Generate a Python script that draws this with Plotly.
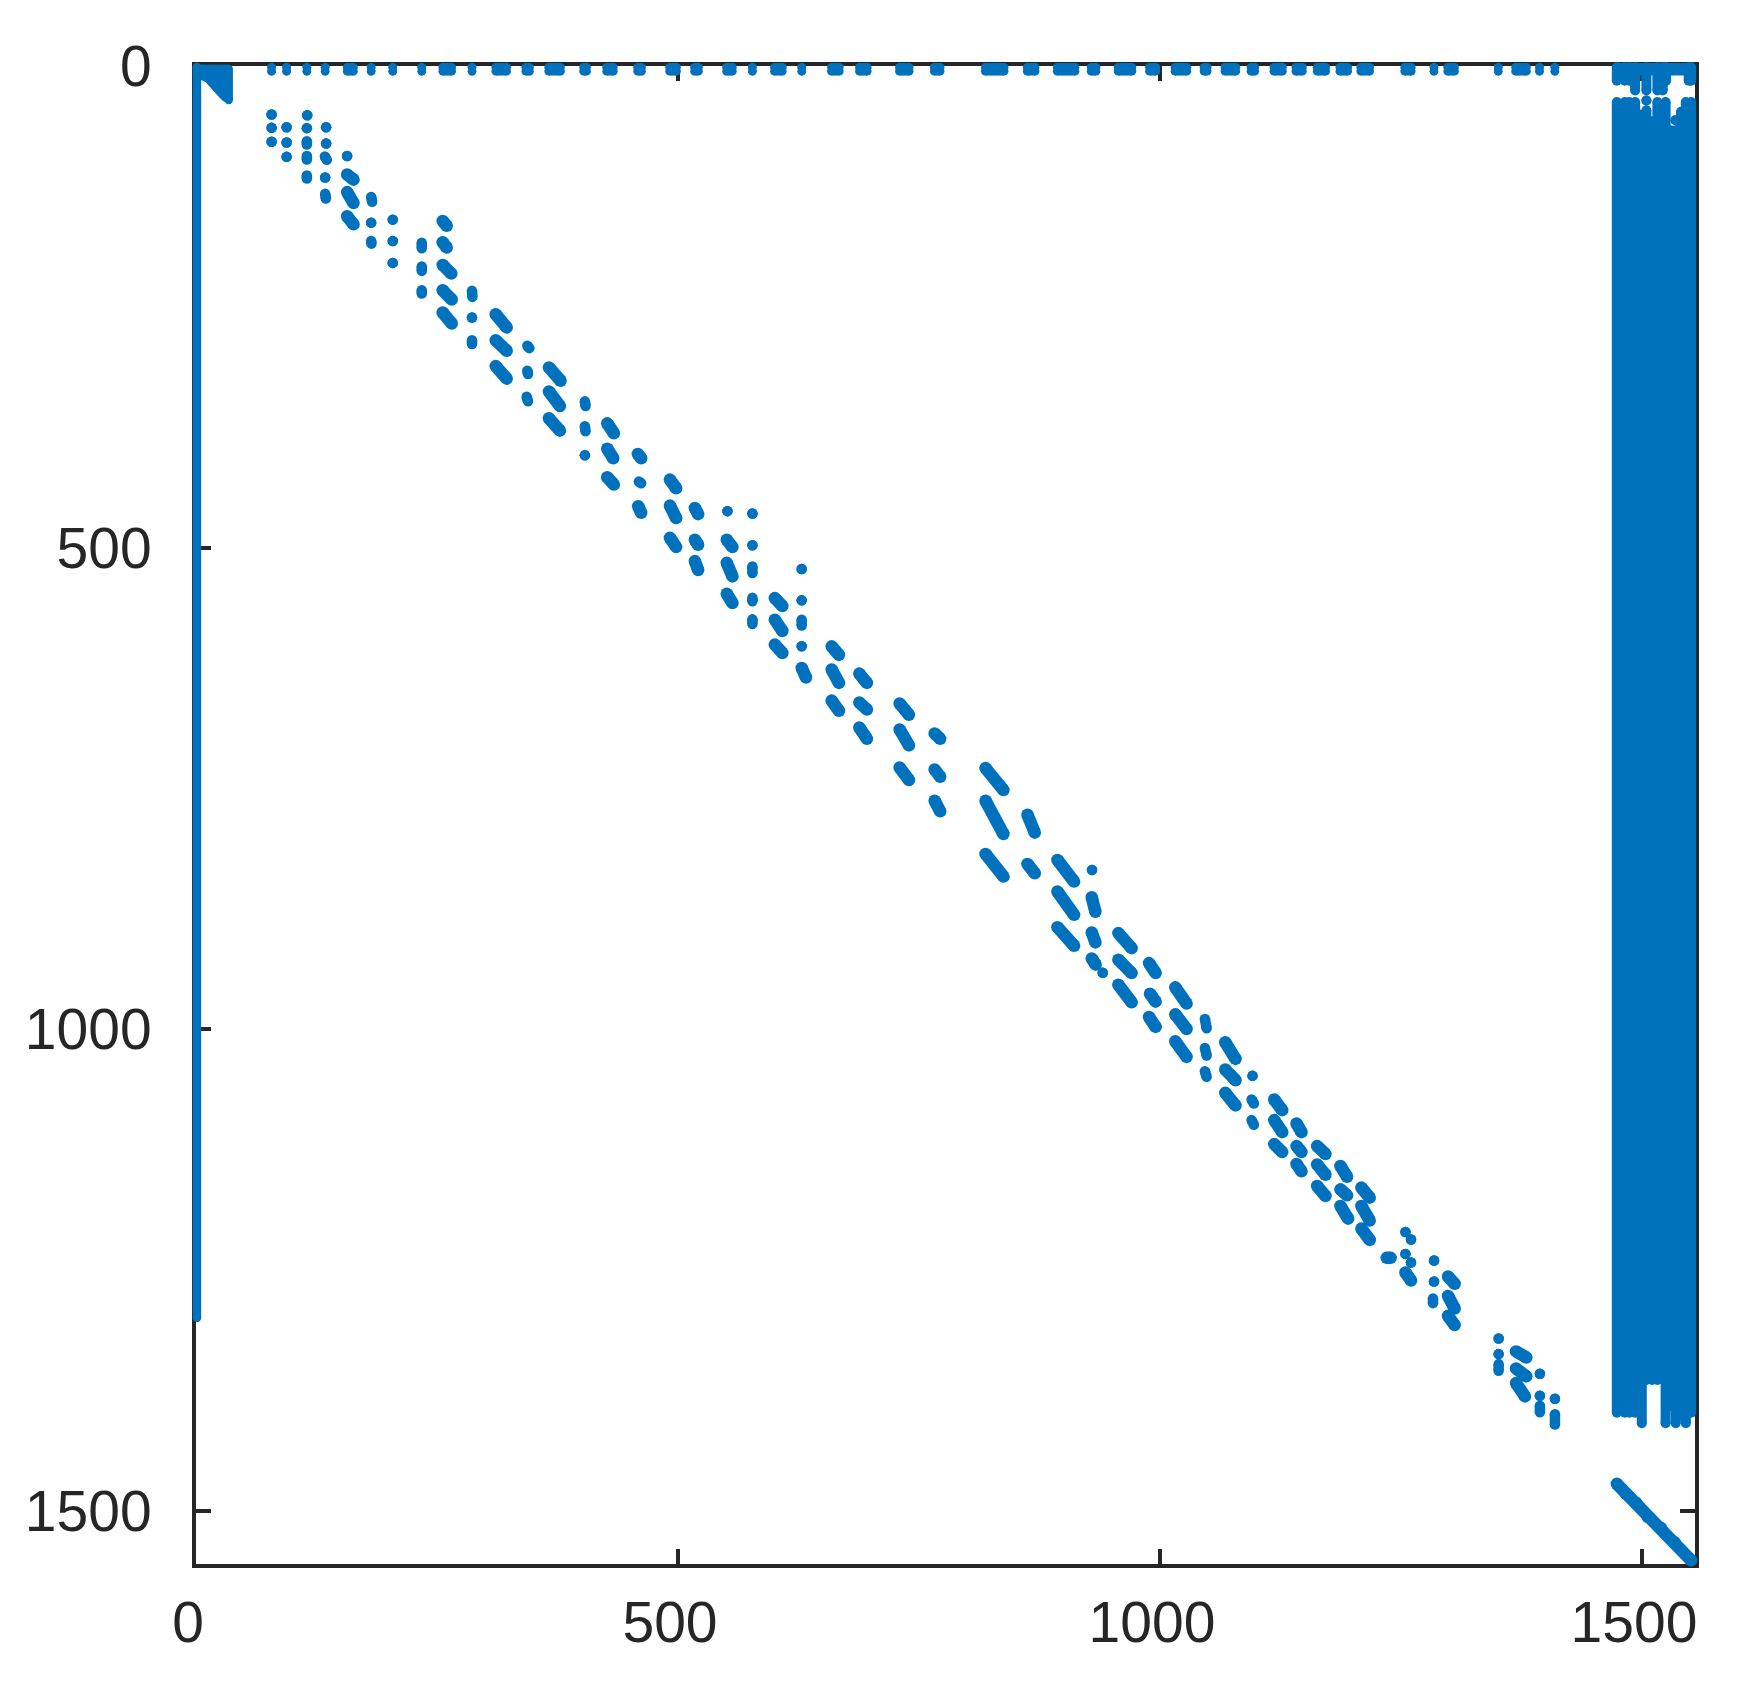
import plotly.graph_objects as go

# Blobs of non-zeros along the band: start (x0, y0) -> end (x1, y1), matrix indices
band_x0 = [78.4,78.4,78.4,94,94,94,115.4,115,115,115,115,135,135,133.7,134,134,156.8,156.8,156.8,156.8,181.7,181.7,181.7,204.1,204.1,204.1,234.2,234.2,234.2,255.9,255.9,255.9,255.9,255.9,286.3,286.3,286.3,310.9,310.9,310.9,343.7,343.7,343,366.1,366.1,366.1,403.4,403.4,403.4,426.6,426.6,426.6,458.3,459.4,458.7,
           491.6,491.6,491.6,517.5,517.5,517.5,551.3,550.6,550.6,550.6,577.2,577.2,577.2,577.2,577.2,600.4,600.4,600.4,628.3,628.3,628.3,628.3,628.3,659.4,659.4,659.4,688.1,688.1,688.1,729.9,729.9,729.9,766.2,766.2,766.2,
           819,819,819,862.5,862.5,893.6,893.6,893.6,929.5,929.2,929.2,929.2,940.6,956.8,956.8,956.8,988.6,989.6,988.6,1015.9,1015.9,1015.9,1046.6,1046.6,1046.6,1067.7,1067.7,1067.7,1096,1095,1095,1118.5,1118.5,1118.5,1141.6,1141.6,1141.6,1163,1163,1163,1187.2,1187.2,1187.2,1208.9,1208.9,1208.9,1235.2,1254.6,1260.4,1254.6,1260.4,1254.6,
           1284.3,1284.3,1283.2,1298.8,1298.8,1298.8,1351.3,1351.3,1351.3,1369.3,1369.3,1369.3,1394.1,1394.1,1394.1,1409.7,1409.7]
band_y0 = [50.4,64.2,78.7,63.5,79.4,94.3,51.1,64.5,78,93.5,113.6,63.5,80.4,94,115.7,132.6,93.5,112.6,130.9,156,136,162.6,181.6,159.5,181.6,204.4,183.4,208.2,232.8,160.9,183,206.5,232.8,255.9,233.4,261.1,284.6,257.6,284.6,311.5,290.4,316.3,343.3,312.9,337.8,365.7,348.1,374,404.1,370.9,397.2,426.9,402.7,431.4,456.9,
           429.3,456.3,489.8,458.7,491.8,513.9,462.1,491.8,515.7,547.8,464.5,497.4,519.5,551.9,574.4,552.3,574.7,600.6,522.2,554.7,574.7,602.4,624.8,602.4,626.5,658.7,630.7,660.7,686.6,661.8,688.7,728.1,692.8,730.2,762.6,
           728.8,762.7,817.9,777.2,828.3,824.1,856.9,893.9,834.5,862.8,899.4,926.4,941.2,900.1,927.7,953.6,931.2,963,987.2,956.4,984.4,1012.4,989.2,1019.3,1043.5,1013.4,1041.7,1065.9,1048.3,1072.8,1094.2,1072.8,1094.2,1119.1,1097.7,1121.2,1139.8,1121.2,1140.2,1162.6,1141.9,1166.1,1183.3,1164.3,1183.3,1206.8,1237.2,1210.3,1218.2,1233.1,1242,1252.4,
           1240,1261.7,1279.4,1256.6,1276.7,1297.4,1320.9,1337.1,1347.5,1334.3,1352,1367.2,1357.5,1380.3,1390.6,1383.4,1399.6]
band_x1 = [78.4,78.4,78.4,94,94,94,115.4,115,115,115,115,135,135,135.7,134,134.7,156.8,163.4,163.4,163.4,182.7,181.7,182,204.1,204.1,204.1,234.2,234.2,234.2,260.1,260.1,264.9,265.3,265.3,286.7,286.3,286.3,322.3,322.3,322.3,345.8,344.4,344.4,378.2,377.5,377.5,404.1,404.1,403.4,433.5,432.8,433.5,461.8,461.8,461.8,
           498.1,498.1,498.1,520.9,520.9,520.9,551.3,556.5,556.5,556.5,577.2,577.2,577.2,577.2,577.2,608.3,608.3,608.3,628.3,628.3,628.3,628.3,632.8,667,667,667,696,696,696,739.6,739.6,739.6,772,772,772,
           837.6,837.6,837.7,870.1,870.1,910.9,910.9,910.9,929.5,933,933,933.3,940.6,970.6,970.6,970.6,995.5,995.5,995.5,1027.6,1027.6,1027.6,1048.4,1048.4,1048.4,1078.4,1078.4,1078.4,1096,1097.4,1097.4,1126.8,1126.8,1126.8,1146.8,1146.8,1146.8,1171.7,1171.7,1171.7,1194.1,1194.1,1195.2,1217.6,1217.6,1217.6,1239.3,1254.6,1260.4,1254.6,1260.4,1260.4,
           1284.3,1284.3,1283.2,1305.7,1305.7,1305.7,1351.3,1351.3,1351.3,1380,1380,1378.6,1394.1,1394.1,1394.1,1409.7,1409.7]
band_y1 = [50.4,64.2,78.7,63.5,79.4,94.3,51.1,64.5,81.5,97,116.7,63.5,80.4,97.4,115.7,137.5,93.5,118,142.3,164.4,140.9,162.6,184.4,159.5,181.6,204.4,189.2,212.7,236.2,165.8,188.5,215.5,242.4,267.3,239.7,261.1,288.7,271.4,295.6,324.6,292.9,319.8,348.1,326.7,353,378.5,353,379.2,404.1,381.3,407.2,434.5,407.2,433.1,463.8,
           438.3,469.4,499.4,465.2,497,523.3,462.1,499.4,529.8,557.5,464.5,497.4,526.4,555.7,579.2,560.6,586.5,609.3,522.2,554.7,580.9,602.4,634.8,611.3,640.4,669.4,640.4,668,698.4,673.5,705.3,741.2,698.4,737.8,773.7,
           751.6,797.2,841.4,795.8,838,846.6,881.1,913.2,834.5,878,909.8,932.9,941.2,915.7,941.6,972,941.6,971.3,997.5,973.3,999.6,1028.6,998.9,1027.2,1049.3,1030.7,1052.8,1079,1048.3,1077,1099,1083.9,1106.7,1127.4,1106.7,1127.4,1147.4,1129.5,1150.9,1173,1153,1172.3,1196.5,1174.7,1198.5,1218.6,1237.2,1210.3,1218.2,1233.1,1242,1260.7,
           1240,1261.7,1284.2,1264.2,1289.8,1307,1320.9,1337.1,1354.4,1340.6,1360.2,1381,1357.5,1380.3,1397.5,1383.4,1410.3]

# First rows: runs of non-zeros along the top of the matrix
top_rows = [1.3, 5.5]
top_x0 = [78.4,94,115,134,156.8,181.7,204.1,234.2,255.9,286.3,310.9,342,365.8,402,425.9,458,491.2,517.1,550.3,577.2,600,628.4,659.1,688.1,729.6,765.8,818.7,862.2,893.3,928.5,956.5,989,1015.5,1045.6,1067.3,1094.3,1118.1,1140.9,1163,1186.5,1208.2,1253.8,1284.2,1298.4,1350.9,1368.8,1393.7,1409.6,1473.9]
top_x1 = [78.4,94,115,134,163.4,181.7,204.1,234.2,265.3,286.3,322.3,346,378.2,405.2,433,462.2,498.5,521.3,556.5,577.2,608.3,628.4,667.4,696.4,739.9,772,838.4,870.5,911.9,933.7,971,995.8,1027.9,1049,1078.7,1098.4,1127.1,1147.8,1172,1194.8,1217.6,1260.7,1284.2,1305.6,1350.9,1380.2,1393.7,1409.6,1551]

# First column and the small dense corner
col1_x = [1, 1]
col1_y = [1, 1299.5]
corner_x0 = [1, 1, 12, 33.9, 4, 8, 13, 18, 24]
corner_y0 = [3, 8, 12.4, 3, 3, 3, 3, 3, 3]
corner_x1 = [33, 12, 31, 33.9, 28, 33, 33, 33, 33]
corner_y1 = [3, 12.4, 33, 35.2, 30, 28, 25, 22, 14]

# Dense last columns: short top band, then the long column block
cap_x = [1473.9,1482.2,1487,1492.9,1504.6,1516,1521.5,1525,1548.5,1551]
cap_y = [15.2,15.2,15.2,25.5,25.5,25.5,25.5,15.2,15.2,15.2]
block_x = [1473.9,1482.2,1487,1492.9,1499.8,1504.6,1510.5,1516,1524.5,1529.5,1535,1540.5,1545.5,1551]
block_top = [37.3,37.3,37.3,37.3,50.4,45.9,57.3,37.3,37.3,66.6,66.6,47.6,37.3,37.3]
block_bot = [1398,1398,1398,1398,1408.9,1364,1364,1364,1408.9,1390.6,1408.9,1401,1408.9,1398]
spot_x = [1504.6, 1534.7]
spot_y = [35.9, 56.3]

# Lower-right diagonal
diag_x = [1473.9,1483.6,1494,1506,1519.9,1533.7,1551]
diag_y = [1471.8,1482.2,1491.5,1506.3,1517.7,1532.3,1551.3]

xticks = [0, 500, 1000, 1500]
yticks = [0, 500, 1000, 1500]
axis_max = 1555

BLUE = "#0072BD"
INK = "#262626"

# Figure box in pixels; marks sit on an invisible pair of axes that extends a
# little past the visible frame so thick strokes on the edge are not cut off.
W, H = 1737, 1703
L, R, T, B = 178, 40, 48, 137
PAD = 10
inner_w, inner_h = W - L - R, H - T - B
kx_ = (inner_w - 2 * PAD) / axis_max
ky_ = (inner_h - 2 * PAD) / axis_max


def segs(x0, y0, x1, y1):
    xs, ys = [], []
    for a, b, c, d in zip(x0, y0, x1, y1):
        xs += [a, c, None]
        ys += [b, d, None]
    return xs, ys


def trace(xs, ys, width):
    return go.Scatter(
        x=xs, y=ys, xaxis="x2", yaxis="y2", mode="lines+markers", hoverinfo="skip",
        line=dict(color=BLUE, width=width),
        marker=dict(color=BLUE, size=width, line=dict(width=0)),
        showlegend=False,
    )


fig = go.Figure()
# keeps the visible frame's subplot alive
fig.add_trace(go.Scatter(x=[None], y=[None], showlegend=False, hoverinfo="skip"))

band = list(zip(band_x0, band_y0, band_x1, band_y1))
long_runs = [b for b in band if abs(b[2] - b[0]) > 3]
short_runs = [b for b in band if abs(b[2] - b[0]) <= 3]
lx, ly = segs(*zip(*long_runs))
fig.add_trace(trace(lx + [None] + list(diag_x), ly + [None] + list(diag_y), 12.5))
sx, sy = segs(*zip(*short_runs))
fig.add_trace(trace(sx, sy, 10.5))

tx, ty = [], []
for r in top_rows:
    a, b = segs(top_x0, [r] * len(top_x0), top_x1, [r] * len(top_x1))
    tx += a
    ty += b
a, b = segs(corner_x0, corner_y0, corner_x1, corner_y1)
tx += a + list(col1_x)
ty += b + list(col1_y)
fig.add_trace(trace(tx, ty, 8.5))

kx, ky = segs(block_x, block_top, block_x, block_bot)
a, b = segs(cap_x, [top_rows[0]] * len(cap_x), cap_x, cap_y)
kx += a
ky += b
a, b = segs(spot_x, spot_y, spot_x, spot_y)
kx += a
ky += b
fig.add_trace(trace(kx, ky, 10))

axis = dict(
    showgrid=False, zeroline=False, showline=True, linecolor=INK, linewidth=4,
    mirror="ticks", ticks="inside", ticklen=15, tickwidth=4, tickcolor=INK,
    tickmode="array", layer="below traces",
    tickfont=dict(family="Liberation Sans", size=57, color=INK),
)
fig.update_layout(
    width=W, height=H, paper_bgcolor="white", plot_bgcolor="rgba(0,0,0,0)",
    margin=dict(l=L, r=R, t=T, b=B, autoexpand=False),
    xaxis=dict(domain=[PAD / inner_w, 1 - PAD / inner_w], range=[0, axis_max],
               tickvals=xticks, ticktext=[str(v) for v in xticks],
               ticklabelshift=-8, ticklabelstandoff=6, anchor="y", **axis),
    yaxis=dict(domain=[PAD / inner_h, 1 - PAD / inner_h], range=[axis_max, 0],
               tickvals=yticks, ticktext=[str(v) for v in yticks],
               ticklabelstandoff=29, anchor="x", **axis),
    xaxis2=dict(domain=[0, 1], range=[-PAD / kx_, axis_max + PAD / kx_],
                visible=False, anchor="y2"),
    yaxis2=dict(domain=[0, 1], range=[axis_max + PAD / ky_, -PAD / ky_],
                visible=False, anchor="x2"),
)
fig.write_html("out.html")
